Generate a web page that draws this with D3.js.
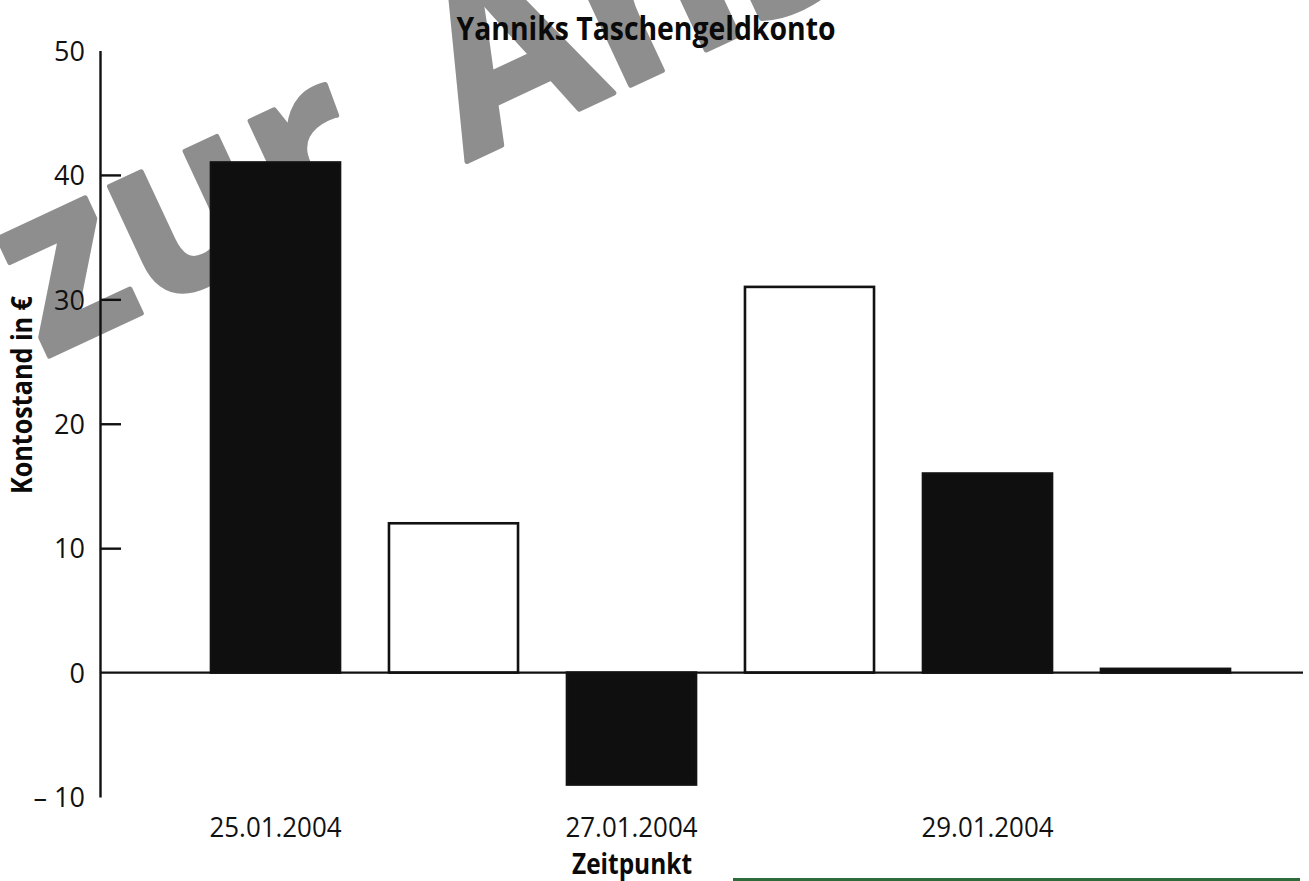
<!DOCTYPE html>
<html>
<head>
<meta charset="utf-8">
<script src="https://cdn.jsdelivr.net/npm/d3@7"></script>
<style>
  body { margin: 0; background: #fff; }
  text { font-family: "Open Sans", "Noto Sans", sans-serif; }
</style>
</head>
<body>
<div id="chart"></div>
<script>
    const svgWidth = 1309
    const svgHeight = 881

    // data
    const dates = ["25.01.2004", "26.01.2004", "27.01.2004", "28.01.2004", "29.01.2004", "30.01.2004"]
    const balance = [41, 12, -9, 31, 16, 0.3]
    const barFill = ["#0f0f0f", "#ffffff", "#0f0f0f", "#ffffff", "#0f0f0f", "#0f0f0f"]
    const labelledDates = ["25.01.2004", "27.01.2004", "29.01.2004"]
    const yTicks = [-10, 0, 10, 20, 30, 40, 50]

    const svg = d3.select("#chart")
        .append("svg")
        .attr("width", svgWidth)
        .attr("height", svgHeight)

    // watermark, underneath everything
    const wm = svg.append("g")
        .attr("transform", "translate(52,355) rotate(-25)")
        .style("fill", "#8e8e8e")
        .style("stroke", "#8e8e8e")
        .style("stroke-width", 5)
        .style("stroke-linejoin", "round")
        .style("font-size", "235px")
        .style("font-weight", "bold")
    wm.append("text").attr("x", -9).attr("y", 0).text("zur")
    wm.append("text").attr("x", 458).attr("y", 0).text("Ansicht")

    const x = d3.scaleBand()
        .domain(dates)
        .range([186.5, 1254.5])
        .paddingInner(0.275)
        .paddingOuter(0.1375)

    const y = d3.scaleLinear()
        .domain([-10, 50])
        .range([797, 50.5])

    // bars
    svg.append("g")
        .selectAll("rect")
        .data(balance)
        .join("rect")
        .attr("x", (d, i) => x(dates[i]))
        .attr("width", x.bandwidth())
        .attr("y", d => y(Math.max(d, 0)))
        .attr("height", d => Math.abs(y(d) - y(0)))
        .attr("fill", (d, i) => barFill[i])
        .style("stroke", "#121212")
        .style("stroke-width", 2.6)

    // zero line
    svg.append("line")
        .attr("x1", 100)
        .attr("x2", 1303)
        .attr("y1", y(0))
        .attr("y2", y(0))
        .style("stroke", "#111")
        .style("stroke-width", 2.4)

    // y axis
    const yAxis = svg.append("g")
        .attr("transform", "translate(100,0)")
        .call(d3.axisLeft(y)
            .tickValues(yTicks)
            .tickSizeInner(-21)
            .tickSizeOuter(0)
            .tickPadding(15)
            .tickFormat(d => d < 0 ? "\u2013 " + Math.abs(d) : d))
    yAxis.select(".domain").style("stroke", "#111").style("stroke-width", 2.4)
    yAxis.selectAll(".tick line")
        .style("stroke", "#111")
        .style("stroke-width", 2.4)
        .style("display", d => (d === 0 || d === 50 || d === -10) ? "none" : null)
    yAxis.selectAll(".tick text")
        .style("font-size", "27px")
        .style("font-family", "'Open Sans', sans-serif")
        .attr("fill", "#111")
        .attr("dy", "0.36em")

    // x axis
    const xAxis = svg.append("g")
        .attr("transform", "translate(0,797)")
        .call(d3.axisBottom(x)
            .tickValues(labelledDates)
            .tickSize(0)
            .tickPadding(21))
    xAxis.select(".domain").remove()
    xAxis.selectAll(".tick text")
        .style("font-size", "27px")
        .style("font-family", "'Open Sans', sans-serif")
        .attr("fill", "#111")
        .attr("textLength", 132)
        .attr("lengthAdjust", "spacingAndGlyphs")

    // titles
    svg.append("text")
        .attr("x", 646)
        .attr("y", 40)
        .attr("text-anchor", "middle")
        .attr("textLength", 379)
        .attr("lengthAdjust", "spacingAndGlyphs")
        .style("font-size", "33px")
        .style("font-weight", "bold")
        .style("fill", "#0a0a0a")
        .text("Yanniks Taschengeldkonto")

    svg.append("text")
        .attr("x", 632)
        .attr("y", 874)
        .attr("text-anchor", "middle")
        .attr("textLength", 120)
        .attr("lengthAdjust", "spacingAndGlyphs")
        .style("font-size", "28px")
        .style("font-weight", "bold")
        .style("fill", "#0a0a0a")
        .text("Zeitpunkt")

    svg.append("text")
        .attr("transform", "translate(32,395) rotate(-90)")
        .attr("text-anchor", "middle")
        .attr("textLength", 198)
        .attr("lengthAdjust", "spacingAndGlyphs")
        .style("font-size", "29px")
        .style("font-weight", "bold")
        .style("fill", "#0a0a0a")
        .text("Kontostand in \u20ac")

    // green rule at the bottom edge
    svg.append("line")
        .attr("x1", 733)
        .attr("x2", 1300)
        .attr("y1", 879.5)
        .attr("y2", 879.5)
        .style("stroke", "#2e6b3a")
        .style("stroke-width", 3)
</script>
</body>
</html>
